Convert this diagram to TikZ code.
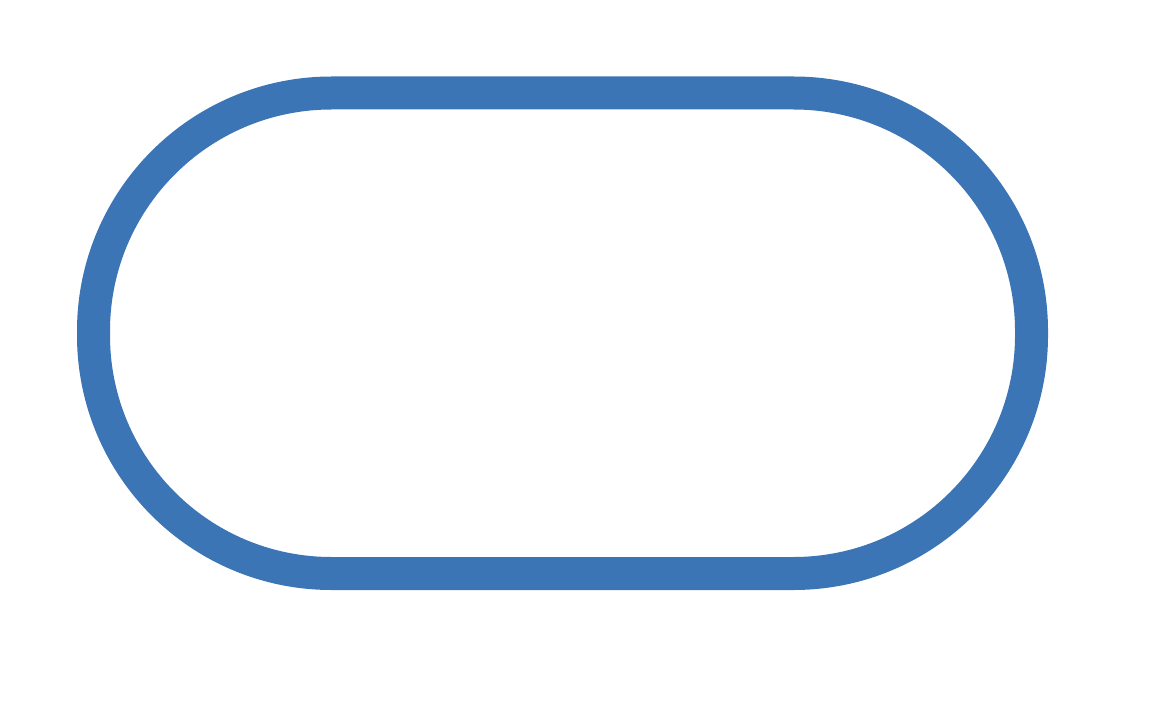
\documentclass[tikz,border=0pt]{standalone}
\definecolor{ringblue}{HTML}{3C75B5}
\tikzset{stadium/.style={draw=ringblue, line width=33pt, rounded corners=238pt}}
\begin{document}
\begin{tikzpicture}[x=1pt,y=-1pt]
\useasboundingbox (0,0) rectangle (1174,703);
\fill[white] (0,0) rectangle (1174,703);
\path[stadium] (93.5,93) rectangle (1031.5,573.5);
\end{tikzpicture}
\end{document}
